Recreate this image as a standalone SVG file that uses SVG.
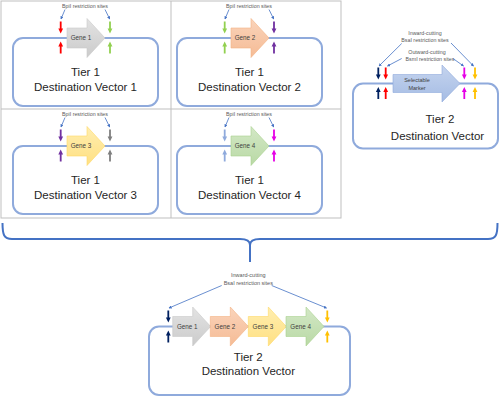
<svg xmlns="http://www.w3.org/2000/svg" xmlns:xlink="http://www.w3.org/1999/xlink" width="500" height="396" viewBox="0 0 500 396">
<style>
text{font-family:"Liberation Sans",Arial,sans-serif;text-anchor:middle}
.lbl{font-size:5.3px;fill:#595959}
.tier{font-size:11.5px;fill:#262626}
.gt{font-size:6.3px;fill:#404040}
.vec{fill:#fff;stroke:#8faadc;stroke-width:2}
.grid{fill:none;stroke:#bfbfbf;stroke-width:1}
.lead{fill:none;stroke:#4472c4;stroke-width:0.8}
.brace{fill:none;stroke:#4472c4;stroke-width:2}
.g1{fill:url(#gr1);stroke:#c9c9c9;stroke-width:0.6}
.g2{fill:url(#gr2);stroke:#f4b183;stroke-width:0.6}
.g3{fill:url(#gr3);stroke:#ffd966;stroke-width:0.6}
.g4{fill:url(#gr4);stroke:#a9d18e;stroke-width:0.6}
.sm{fill:url(#gr5);stroke:#8faadc;stroke-width:0.6}
</style>
<defs>
<linearGradient id="gr1" x1="0" y1="0" x2="0" y2="1"><stop offset="0" stop-color="#e3e3e3"/><stop offset="1" stop-color="#cbcbcb"/></linearGradient>
<linearGradient id="gr2" x1="0" y1="0" x2="0" y2="1"><stop offset="0" stop-color="#fad4bb"/><stop offset="1" stop-color="#f5bb95"/></linearGradient>
<linearGradient id="gr3" x1="0" y1="0" x2="0" y2="1"><stop offset="0" stop-color="#ffeeb0"/><stop offset="1" stop-color="#ffe082"/></linearGradient>
<linearGradient id="gr4" x1="0" y1="0" x2="0" y2="1"><stop offset="0" stop-color="#d3e8c6"/><stop offset="1" stop-color="#b9d9a5"/></linearGradient>
<linearGradient id="gr5" x1="0" y1="0" x2="0" y2="1"><stop offset="0" stop-color="#c5d4ee"/><stop offset="1" stop-color="#a5bce4"/></linearGradient>
<path id="gene" d="M0,-10 H20 V-19.5 L38,0 L20,19.5 V10 H0 Z"/>
<path id="dn" d="M-0.9,-6 H0.9 V1 H2.4 L0,6 L-2.4,1 H-0.9 Z"/>
<path id="up" d="M-0.9,6 H0.9 V-1 H2.4 L0,-6 L-2.4,-1 H-0.9 Z"/>
<marker id="ah" viewBox="0 0 6 6" refX="5" refY="3" markerWidth="4" markerHeight="4" orient="auto" markerUnits="strokeWidth"><path d="M0,0 L6,3 L0,6 Z" fill="#4472c4"/></marker>
</defs>
<rect width="500" height="396" fill="#fff"/>
<g id="grid">
<rect class="grid" x="1" y="1" width="340" height="217"/>
<line class="grid" x1="171" y1="1" x2="171" y2="218"/>
<line class="grid" x1="1" y1="109" x2="341" y2="109"/>
</g>
<g id="cell1">
<text class="lbl" x="85" y="8">BpiI restriction sites</text>
<rect class="vec" x="13" y="38" width="145" height="68" rx="10"/>
<use href="#gene" class="g1" transform="translate(67,38)"/>
<text class="gt" x="81" y="40.3">Gene 1</text>
<use href="#dn" x="60.7" y="27.5" fill="#ff0000"/>
<use href="#up" x="60.7" y="47.5" fill="#ff0000"/>
<use href="#dn" x="110" y="27.5" fill="#92d050"/>
<use href="#up" x="110" y="47.5" fill="#92d050"/>
<text class="tier" x="85.5" y="75.5">Tier 1</text>
<text class="tier" x="85.5" y="90.5">Destination Vector 1</text>
</g>
<g id="cell2" transform="translate(164,0)">
<text class="lbl" x="85" y="8">BpiI restriction sites</text>
<rect class="vec" x="13" y="38" width="145" height="68" rx="10"/>
<use href="#gene" class="g2" transform="translate(67,38)"/>
<text class="gt" x="81" y="40.3">Gene 2</text>
<use href="#dn" x="60.7" y="27.5" fill="#92d050"/>
<use href="#up" x="60.7" y="47.5" fill="#92d050"/>
<use href="#dn" x="110" y="27.5" fill="#7030a0"/>
<use href="#up" x="110" y="47.5" fill="#7030a0"/>
<text class="tier" x="85.5" y="75.5">Tier 1</text>
<text class="tier" x="85.5" y="90.5">Destination Vector 2</text>
</g>
<g id="cell3" transform="translate(0,108)">
<text class="lbl" x="85" y="8">BpiI restriction sites</text>
<rect class="vec" x="13" y="38" width="145" height="68" rx="10"/>
<use href="#gene" class="g3" transform="translate(67,38)"/>
<text class="gt" x="81" y="40.3">Gene 3</text>
<use href="#dn" x="60.7" y="27.5" fill="#7030a0"/>
<use href="#up" x="60.7" y="47.5" fill="#7030a0"/>
<use href="#dn" x="110" y="27.5" fill="#7f7f7f"/>
<use href="#up" x="110" y="47.5" fill="#7f7f7f"/>
<text class="tier" x="85.5" y="75.5">Tier 1</text>
<text class="tier" x="85.5" y="90.5">Destination Vector 3</text>
</g>
<g id="cell4" transform="translate(164,108)">
<text class="lbl" x="85" y="8">BpiI restriction sites</text>
<rect class="vec" x="13" y="38" width="145" height="68" rx="10"/>
<use href="#gene" class="g4" transform="translate(67,38)"/>
<text class="gt" x="81" y="40.3">Gene 4</text>
<use href="#dn" x="60.7" y="27.5" fill="#8faadc"/>
<use href="#up" x="60.7" y="47.5" fill="#8faadc"/>
<use href="#dn" x="110" y="27.5" fill="#e600e6"/>
<use href="#up" x="110" y="47.5" fill="#e600e6"/>
<text class="tier" x="85.5" y="75.5">Tier 1</text>
<text class="tier" x="85.5" y="90.5">Destination Vector 4</text>
</g>
<g id="tier2-vector">
<text class="lbl" x="425" y="35">Inward-cutting</text>
<text class="lbl" x="425" y="42">BsaI restriction sites</text>
<text class="lbl" x="427" y="53.5">Outward-cutting</text>
<text class="lbl" x="430" y="60.5">BsmI restriction sites</text>
<rect class="vec" x="353" y="83.5" width="145" height="65" rx="10"/>
<path class="sm" d="M393,74.5 H442 V65 L460,83.5 L442,102 V92.5 H393 Z"/>
<text class="gt" x="417" y="81.5" style="font-size:5.5px">Selectable</text>
<text class="gt" x="417" y="89.5" style="font-size:5.5px">Marker</text>
<use href="#dn" x="378.3" y="73.5" fill="#002060"/>
<use href="#up" x="378.3" y="93" fill="#002060"/>
<use href="#dn" x="385.7" y="73.5" fill="#ff0000"/>
<use href="#up" x="385.7" y="93" fill="#ff0000"/>
<use href="#dn" x="464.3" y="73.5" fill="#e600e6"/>
<use href="#up" x="464.3" y="93" fill="#e600e6"/>
<use href="#dn" x="475" y="73.5" fill="#ffc000"/>
<use href="#up" x="475" y="93" fill="#ffc000"/>
<text class="tier" x="440" y="123">Tier 2</text>
<text class="tier" x="437.5" y="139.5">Destination Vector</text>
</g>
<g id="tier2-assembled">
<text class="lbl" x="248.3" y="277" style="font-size:5.5px">Inward-cutting</text>
<text class="lbl" x="248.3" y="285" style="font-size:5.5px">BsaI restriction sites</text>
<rect class="vec" x="149" y="326.5" width="201" height="68.5" rx="10"/>
<use href="#gene" class="g1" transform="translate(172.7,326.5)"/>
<use href="#gene" class="g2" transform="translate(210.3,326.5)"/>
<use href="#gene" class="g3" transform="translate(248.3,326.5)"/>
<use href="#gene" class="g4" transform="translate(286,326.5)"/>
<text class="gt" x="187.3" y="328.8">Gene 1</text>
<text class="gt" x="224.9" y="328.8">Gene 2</text>
<text class="gt" x="262.9" y="328.8">Gene 3</text>
<text class="gt" x="300.6" y="328.8">Gene 4</text>
<use href="#dn" x="168.3" y="316.5" fill="#002060"/>
<use href="#up" x="168.3" y="336.5" fill="#002060"/>
<use href="#dn" x="327.3" y="316.5" fill="#ffc000"/>
<use href="#up" x="327.3" y="336.5" fill="#ffc000"/>
<text class="tier" x="248.3" y="360.5">Tier 2</text>
<text class="tier" x="248.3" y="375">Destination Vector</text>
</g>
<g id="connectors">
<path class="lead" marker-end="url(#ah)" d="M65,9.5 L61,19"/>
<path class="lead" marker-end="url(#ah)" d="M105,9.5 L109.7,19"/>
<path class="lead" marker-end="url(#ah)" d="M229,9.5 L225,19"/>
<path class="lead" marker-end="url(#ah)" d="M269,9.5 L273.7,19"/>
<path class="lead" marker-end="url(#ah)" d="M65,117.5 L61,127"/>
<path class="lead" marker-end="url(#ah)" d="M105,117.5 L109.7,127"/>
<path class="lead" marker-end="url(#ah)" d="M229,117.5 L225,127"/>
<path class="lead" marker-end="url(#ah)" d="M269,117.5 L273.7,127"/>
<path class="lead" marker-end="url(#ah)" d="M401.7,43.5 L379,66"/>
<path class="lead" marker-end="url(#ah)" d="M451,43 L473.5,66"/>
<path class="lead" marker-end="url(#ah)" d="M401.7,58.5 L387.5,66"/>
<path class="lead" marker-end="url(#ah)" d="M453,58.5 L463.5,66"/>
<path class="lead" marker-end="url(#ah)" d="M221.7,285.5 L169,308"/>
<path class="lead" marker-end="url(#ah)" d="M271.7,285.5 L326.5,308"/>
<path class="brace" d="M2.5,223 C2.5,235 4,239 12,239 L240,239 C246,239 250,240.5 250,245 L250,262 M250,245 C250,240.5 254,239 260,239 L488,239 C496,239 497.5,235 497.5,223"/>
</g>
</svg>
